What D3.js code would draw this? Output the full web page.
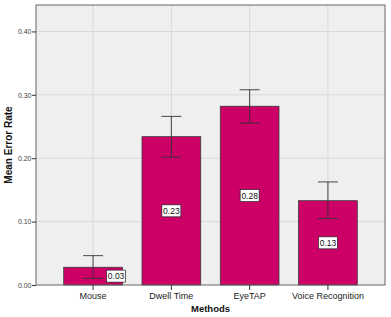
<!DOCTYPE html>
<html>
<head>
<meta charset="utf-8">
<script src="https://d3js.org/d3.v7.min.js"></script>
<style>
  body { margin: 0; background: #fff; }
  svg { display: block; font-family: "Liberation Sans", Arial, sans-serif; }
</style>
</head>
<body>
<div id="chart"></div>
<script>
// data
const methods = ["Mouse", "Dwell Time", "EyeTAP", "Voice Recognition"];
const meanError = [0.028, 0.234, 0.282, 0.133];
const errLow = [0.0105, 0.2016, 0.2553, 0.1047];
const errHigh = [0.0463, 0.266, 0.308, 0.1626];
const barLabels = ["0.03", "0.23", "0.28", "0.13"];
const yTicks = [0, 0.1, 0.2, 0.3, 0.4];

const W = 391, H = 317;
const margin = {top: 5, right: 6, bottom: 32, left: 36};
const w = W - margin.left - margin.right;
const h = H - margin.top - margin.bottom;

const svg = d3.select("#chart").append("svg")
    .attr("width", W).attr("height", H);

const g = svg.append("g")
    .attr("transform", "translate(" + margin.left + "," + margin.top + ")");

const x = d3.scaleBand()
    .domain(methods)
    .range([0, w])
    .paddingInner(0.25)
    .paddingOuter(0.354);

const y = d3.scaleLinear()
    .domain([0, 0.4417])
    .range([h, 0]);

// plot background
g.append("rect")
    .attr("width", w).attr("height", h)
    .attr("fill", "#efefef");

// grid lines
g.selectAll(".hgrid")
    .data(yTicks.slice(1))
    .enter().append("line")
    .attr("x1", 0).attr("x2", w)
    .attr("y1", d => y(d)).attr("y2", d => y(d))
    .attr("stroke", "#d9d9d9").attr("stroke-width", 1);

g.selectAll(".vgrid")
    .data(methods)
    .enter().append("line")
    .attr("x1", d => x(d) + x.bandwidth() / 2)
    .attr("x2", d => x(d) + x.bandwidth() / 2)
    .attr("y1", 0).attr("y2", h)
    .attr("stroke", "#d9d9d9").attr("stroke-width", 1);

// bars
g.selectAll(".bar")
    .data(methods)
    .enter().append("rect")
    .attr("x", d => x(d))
    .attr("y", (d, i) => y(meanError[i]))
    .attr("width", x.bandwidth())
    .attr("height", (d, i) => h - y(meanError[i]))
    .attr("fill", "#cc0066")
    .attr("stroke", "#3a3a3a")
    .attr("stroke-width", 0.8);

// error bars
const eb = g.selectAll(".err")
    .data(methods)
    .enter().append("g")
    .attr("stroke", "#333")
    .attr("stroke-width", 0.9);

eb.append("line")
    .attr("x1", d => x(d) + x.bandwidth() / 2)
    .attr("x2", d => x(d) + x.bandwidth() / 2)
    .attr("y1", (d, i) => y(errLow[i]))
    .attr("y2", (d, i) => y(errHigh[i]));

[errLow, errHigh].forEach(arr => {
    eb.append("line")
        .attr("x1", d => x(d) + x.bandwidth() / 2 - 10)
        .attr("x2", d => x(d) + x.bandwidth() / 2 + 10)
        .attr("y1", (d, i) => y(arr[i]))
        .attr("y2", (d, i) => y(arr[i]));
});

// value labels
const lab = g.selectAll(".lab")
    .data(methods)
    .enter().append("g")
    .attr("transform", (d, i) => {
        let cx = x(d) + x.bandwidth() / 2;
        // small bar: label pushed aside so it does not cover the error bar
        if (h - y(meanError[i]) < 30) cx += 23;
        const cy = (y(meanError[i]) + h) / 2;
        return "translate(" + cx + "," + cy + ")";
    });

lab.append("rect")
    .attr("x", -9.5).attr("y", -6)
    .attr("width", 19).attr("height", 12)
    .attr("fill", "#fff")
    .attr("stroke", "#222")
    .attr("stroke-width", 0.7);

lab.append("text")
    .attr("text-anchor", "middle")
    .attr("dy", "0.35em")
    .attr("font-size", "8.5px")
    .attr("fill", "#111")
    .text((d, i) => barLabels[i]);

// plot frame
g.append("rect")
    .attr("width", w).attr("height", h)
    .attr("fill", "none")
    .attr("stroke", "#666").attr("stroke-width", 1);

// axes
const yAxis = g.append("g")
    .call(d3.axisLeft(y).tickValues(yTicks).tickFormat(d3.format(".2f")).tickSize(4).tickSizeOuter(0));
yAxis.select(".domain").remove();
yAxis.selectAll("line").attr("stroke", "#333");
yAxis.selectAll("text")
    .attr("font-size", "7px")
    .attr("fill", "#444")
    .attr("x", -4.5)
    .attr("font-family", "Liberation Sans, Arial, sans-serif");

const xAxis = g.append("g")
    .attr("transform", "translate(0," + h + ")")
    .call(d3.axisBottom(x).tickSize(5).tickSizeOuter(0));
xAxis.select(".domain").remove();
xAxis.selectAll("line").attr("stroke", "#333");
xAxis.selectAll("text")
    .attr("font-size", "9px")
    .attr("fill", "#222")
    .attr("y", 8)
    .attr("font-family", "Liberation Sans, Arial, sans-serif");

// axis titles
svg.append("text")
    .attr("x", margin.left + w / 2)
    .attr("y", 312)
    .attr("text-anchor", "middle")
    .attr("font-size", "9.5px")
    .attr("font-weight", "bold")
    .attr("fill", "#111")
    .text("Methods");

svg.append("text")
    .attr("transform", "translate(11.5," + (margin.top + h / 2) + ") rotate(-90)")
    .attr("text-anchor", "middle")
    .attr("font-size", "10px")
    .attr("font-weight", "bold")
    .attr("fill", "#111")
    .text("Mean Error Rate");
</script>
</body>
</html>
